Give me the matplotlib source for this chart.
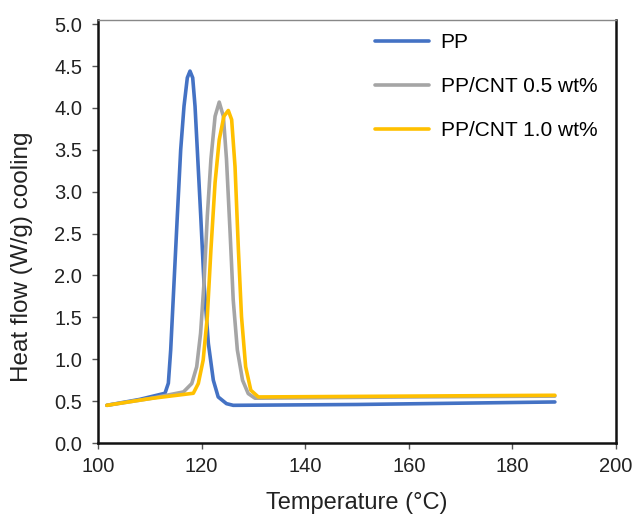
import matplotlib
matplotlib.use("Agg")
from matplotlib import pyplot as plt

#------------------------------------------------------------------------------
# data
#------------------------------------------------------------------------------
T_pp = [101.7, 108.0, 112.93, 113.58, 114.03, 114.67, 115.31, 115.96, 116.6,
        117.24, 117.76, 118.28, 118.73, 119.17, 119.83, 120.46, 121.3,
        122.26, 123.2, 124.8, 126.1, 150.0, 188.2]
Q_pp = [0.45, 0.52, 0.594, 0.714, 1.11, 1.91, 2.71, 3.50, 4.02,
        4.36, 4.44, 4.36, 4.02, 3.50, 2.71, 1.91, 1.19,
        0.75, 0.55, 0.47, 0.45, 0.46, 0.49]

T_05 = [101.7, 110.0, 116.5, 118.1, 119.05, 119.8, 120.46, 121.1, 121.8,
        122.6, 123.4, 124.2, 124.8, 125.5, 126.1, 126.9, 127.9, 129.0,
        130.3, 160.0, 188.2]
Q_05 = [0.45, 0.53, 0.61, 0.71, 0.91, 1.31, 1.91, 2.71, 3.39,
        3.90, 4.07, 3.90, 3.39, 2.51, 1.71, 1.11, 0.75, 0.59,
        0.535, 0.55, 0.56]

T_10 = [101.7, 110.0, 118.4, 119.36, 120.3, 121.1, 121.8, 122.6, 123.4,
        124.3, 125.15, 125.8, 126.45, 127.1, 127.7, 128.5, 129.5, 130.95,
        160.0, 188.2]
Q_10 = [0.45, 0.53, 0.594, 0.71, 0.99, 1.51, 2.31, 3.11, 3.62,
        3.90, 3.97, 3.86, 3.30, 2.31, 1.51, 0.91, 0.63, 0.55,
        0.56, 0.57]

labels = ["PP", "PP/CNT 0.5 wt%", "PP/CNT 1.0 wt%"]
colors = ["#4472C4", "#A5A5A5", "#FFC000"]

x_ticks = [100, 120, 140, 160, 180, 200]
y_ticks = [0.0, 0.5, 1.0, 1.5, 2.0, 2.5, 3.0, 3.5, 4.0, 4.5, 5.0]


def main():
    plt.rcParams['font.family'] = ['Liberation Sans', 'DejaVu Sans']
    fig = plt.figure(figsize=(6.34, 5.14), dpi=100)
    ax = fig.add_axes([0.1546, 0.1381, 0.817, 0.823])

    for T, Q, lab, c in zip([T_pp, T_05, T_10], [Q_pp, Q_05, Q_10],
                            labels, colors):
        ax.plot(T, Q, color=c, lw=2.6, label=lab, solid_capstyle='round',
                solid_joinstyle='round')

    ax.set_xlim(100, 200)
    ax.set_ylim(0, 5.05)
    ax.set_xticks(x_ticks)
    ax.set_yticks(y_ticks)
    ax.set_yticklabels(["%.1f" % v for v in y_ticks])
    ax.tick_params(labelsize=14.5, direction='out', length=4.3, width=1,
                   color='#555555', labelcolor='#222222')
    ax.tick_params(axis='x', pad=6)
    ax.tick_params(axis='y', pad=7)
    ax.set_xlabel("Temperature (°C)", fontsize=17, color='#222222',
                  labelpad=11)
    ax.set_ylabel("Heat flow (W/g) cooling", fontsize=17.5, color='#222222')
    ax.yaxis.set_label_coords(-0.125, 0.44)

    for s in ['left', 'bottom', 'right']:
        ax.spines[s].set_linewidth(1.8)
        ax.spines[s].set_color('#111111')
    ax.spines['top'].set_linewidth(1.0)
    ax.spines['top'].set_color('#888888')

    ax.legend(loc='upper left', frameon=False, fontsize=15,
              handlelength=2.6, labelspacing=1.2, handletextpad=0.55,
              borderpad=0, borderaxespad=0,
              bbox_to_anchor=(375 / 634, 1 - 33 / 514),
              bbox_transform=fig.transFigure)

    fig.savefig("out.png", dpi=100)


if __name__ == '__main__':
    main()
